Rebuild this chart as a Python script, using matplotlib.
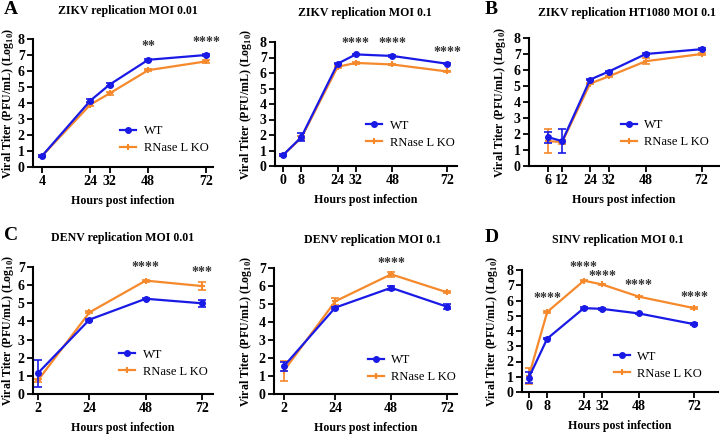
import matplotlib
matplotlib.use("Agg")
import matplotlib.pyplot as plt
import numpy as np

plt.rcParams['font.family'] = ['Liberation Serif', 'DejaVu Serif']
plt.rcParams['mathtext.fontset'] = 'custom'
plt.rcParams['mathtext.rm'] = 'Liberation Serif:bold'
plt.rcParams['mathtext.bf'] = 'Liberation Serif:bold'

BLUE = '#1a1ae6'
ORANGE = '#f5892b'

# ---- data ----
# Panel A: ZIKV MOI 0.01
a_x = [4, 24, 32, 48, 72]
a_wt = [0.7, 4.15, 5.15, 6.7, 7.0]
a_ko = [0.7, 3.9, 4.6, 6.05, 6.6]
a_wt_err = [0.05, 0.08, 0.08, 0.08, 0.08]
a_ko_err = [0.05, 0.08, 0.08, 0.08, 0.08]
a_stars = {48: '**', 72: '****'}

# ZIKV MOI 0.1
b_x = [0, 8, 24, 32, 48, 72]
b_wt = [0.7, 1.85, 6.6, 7.2, 7.1, 6.6]
b_ko = [0.7, 1.8, 6.4, 6.65, 6.55, 6.1]
b_wt_err = [0.05, 0.25, 0.05, 0.05, 0.05, 0.05]
b_ko_err = [0.05, 0.15, 0.05, 0.05, 0.05, 0.05]
b_stars = {32: '****', 48: '****', 72: '****'}

# B: ZIKV HT1080 MOI 0.1
c_x = [6, 12, 24, 32, 48, 72]
c_wt = [1.8, 1.55, 5.4, 5.9, 7.0, 7.3]
c_ko = [1.55, 1.5, 5.15, 5.6, 6.55, 7.0]
c_wt_err = [0.35, 0.75, 0.05, 0.05, 0.05, 0.05]
c_ko_err = [0.75, 0.1, 0.05, 0.05, 0.2, 0.05]
c_stars = {}

# C: DENV MOI 0.01
d_x = [2, 24, 48, 72]
d_wt = [1.15, 4.1, 5.25, 5.0]
d_ko = [0.75, 4.5, 6.25, 5.95]
d_wt_err = [0.75, 0.05, 0.05, 0.2]
d_ko_err = [0.1, 0.05, 0.05, 0.2]
d_stars = {48: '****', 72: '***'}

# DENV MOI 0.1
e_x = [2, 24, 48, 72]
e_wt = [1.55, 4.8, 5.9, 4.85]
e_ko = [1.3, 5.15, 6.65, 5.65]
e_wt_err = [0.25, 0.05, 0.12, 0.15]
e_ko_err = [0.55, 0.2, 0.15, 0.05]
e_stars = {48: '****'}

# D: SINV MOI 0.1
f_x = [0, 8, 24, 32, 48, 72]
f_wt = [0.95, 3.5, 5.5, 5.45, 5.15, 4.45]
f_ko = [1.05, 5.25, 7.3, 7.05, 6.25, 5.5]
f_wt_err = [0.35, 0.05, 0.05, 0.05, 0.05, 0.05]
f_ko_err = [0.55, 0.05, 0.05, 0.05, 0.05, 0.05]
f_stars = {8: '****', 24: '****', 32: '****', 48: '****', 72: '****'}

W, H = 720, 434
fig = plt.figure(figsize=(7.2, 4.34), dpi=100)

def make_ax(left, right, top, bottom):
    return fig.add_axes([left / W, 1 - bottom / H, (right - left) / W, (bottom - top) / H])

panels = [
    dict(box=(33, 213, 39, 167), xlim=(0.2, 74.9), ylim=8, x=a_x, wt=a_wt, ko=a_ko, we=a_wt_err, ke=a_ko_err,
         stars=a_stars, sy={48: 7.5, 72: 7.75}, title='ZIKV replication MOI 0.01', tpos=(128, 11), ylx=16,
         letter='A', lpos=(4, 10), leg=(1.03, 0.02)),
    dict(box=(275, 457, 42, 166), xlim=(-3.5, 76.4), ylim=8, x=b_x, wt=b_wt, ko=b_ko, we=b_wt_err, ke=b_ko_err,
         stars=b_stars, sy={32: 7.9, 48: 7.9, 72: 7.35}, title='ZIKV replication MOI 0.1', tpos=(365, 13), ylx=254,
         letter=None, lpos=None, leg=(1.04, 0.06)),
    dict(box=(529, 719, 38, 166), xlim=(-2.3, 79.5), ylim=8, x=c_x, wt=c_wt, ko=c_ko, we=c_wt_err, ke=c_ko_err,
         stars=c_stars, sy={}, title='ZIKV replication HT1080 MOI 0.1', tpos=(627, 13), ylx=508,
         letter='B', lpos=(485, 10), leg=(1.0, 0.06)),
    dict(box=(33, 213, 267, 394), xlim=(-0.1, 76.7), ylim=7, x=d_x, wt=d_wt, ko=d_ko, we=d_wt_err, ke=d_ko_err,
         stars=d_stars, sy={48: 6.95, 72: 6.7}, title='DENV replication MOI 0.01', tpos=(123, 238), ylx=16,
         letter='C', lpos=(4, 235), leg=(1.025, 0.05)),
    dict(box=(274, 457, 268, 394), xlim=(-2.3, 76.3), ylim=7, x=e_x, wt=e_wt, ko=e_ko, we=e_wt_err, ke=e_ko_err,
         stars=e_stars, sy={48: 7.27}, title='DENV replication MOI 0.1', tpos=(373, 240), ylx=254,
         letter=None, lpos=None, leg=(1.05, 0.005)),
    dict(box=(522, 718, 270, 392), xlim=(-3.0, 82.5), ylim=8, x=f_x, wt=f_wt, ko=f_ko, we=f_wt_err, ke=f_ko_err,
         stars=f_stars, sy={8: 6.15, 24: 8.15, 32: 7.6, 48: 7.0, 72: 6.2}, title='SINV replication MOI 0.1',
         tpos=(618, 240), ylx=500, letter='D', lpos=(485, 237), leg=(0.97, 0.02)),
]

for p in panels:
    l, r, t, b = p['box']
    ax = make_ax(l, r, t, b)
    ax.errorbar(p['x'], p['wt'], yerr=p['we'], color=BLUE, fmt='none',
                capsize=3, elinewidth=1.2, capthick=1.2, zorder=3)
    ax.errorbar(p['x'], p['ko'], yerr=p['ke'], color=ORANGE, fmt='none',
                capsize=3, elinewidth=1.2, capthick=1.2, zorder=2)
    ax.plot(p['x'], p['wt'], color=BLUE, marker='o', markersize=4, lw=1.6, label='WT', zorder=3)
    ax.plot(p['x'], p['ko'], color=ORANGE, marker='+', markersize=5, mew=1.5, lw=1.6,
            label='RNase L KO', zorder=2)
    ax.set_xlim(*p['xlim'])
    ax.set_ylim(0, p['ylim'])
    ax.set_xticks(p['x'])
    ax.set_yticks(range(0, p['ylim'] + 1))
    ax.spines['top'].set_visible(False)
    ax.spines['right'].set_visible(False)
    for s in ('left', 'bottom'):
        ax.spines[s].set_linewidth(1.5)
    ax.tick_params(width=1.3, length=4, labelsize=10, pad=2)
    for lab in ax.get_xticklabels() + ax.get_yticklabels():
        lab.set_fontweight('bold')
    ax.set_xlabel('Hours post infection', fontsize=8.6, fontweight='bold', labelpad=5)
    ax.set_ylabel(r'Viral Titer (PFU/mL) (Log$_{10}$)', fontsize=8.6, fontweight='bold')
    ax.yaxis.set_label_coords((p['ylx'] - l) / (r - l), 0.5)
    for xv, s in p['stars'].items():
        ax.text(xv, p['sy'][xv], s, ha='center', va='center', fontsize=10, fontweight='bold', color='#333333')
    ax.legend(loc='lower right', bbox_to_anchor=p['leg'], frameon=False, fontsize=9,
              handlelength=1.3, labelspacing=0.4, handletextpad=0.6, borderpad=0.3)
    fig.text(p['tpos'][0] / W, 1 - p['tpos'][1] / H, p['title'], ha='center', va='center',
             fontsize=8.6, fontweight='bold')
    if p['letter']:
        fig.text(p['lpos'][0] / W, 1 - p['lpos'][1] / H, p['letter'], ha='left', va='center',
                 fontsize=14, fontweight='bold')

fig.savefig('out.png', dpi=100)
